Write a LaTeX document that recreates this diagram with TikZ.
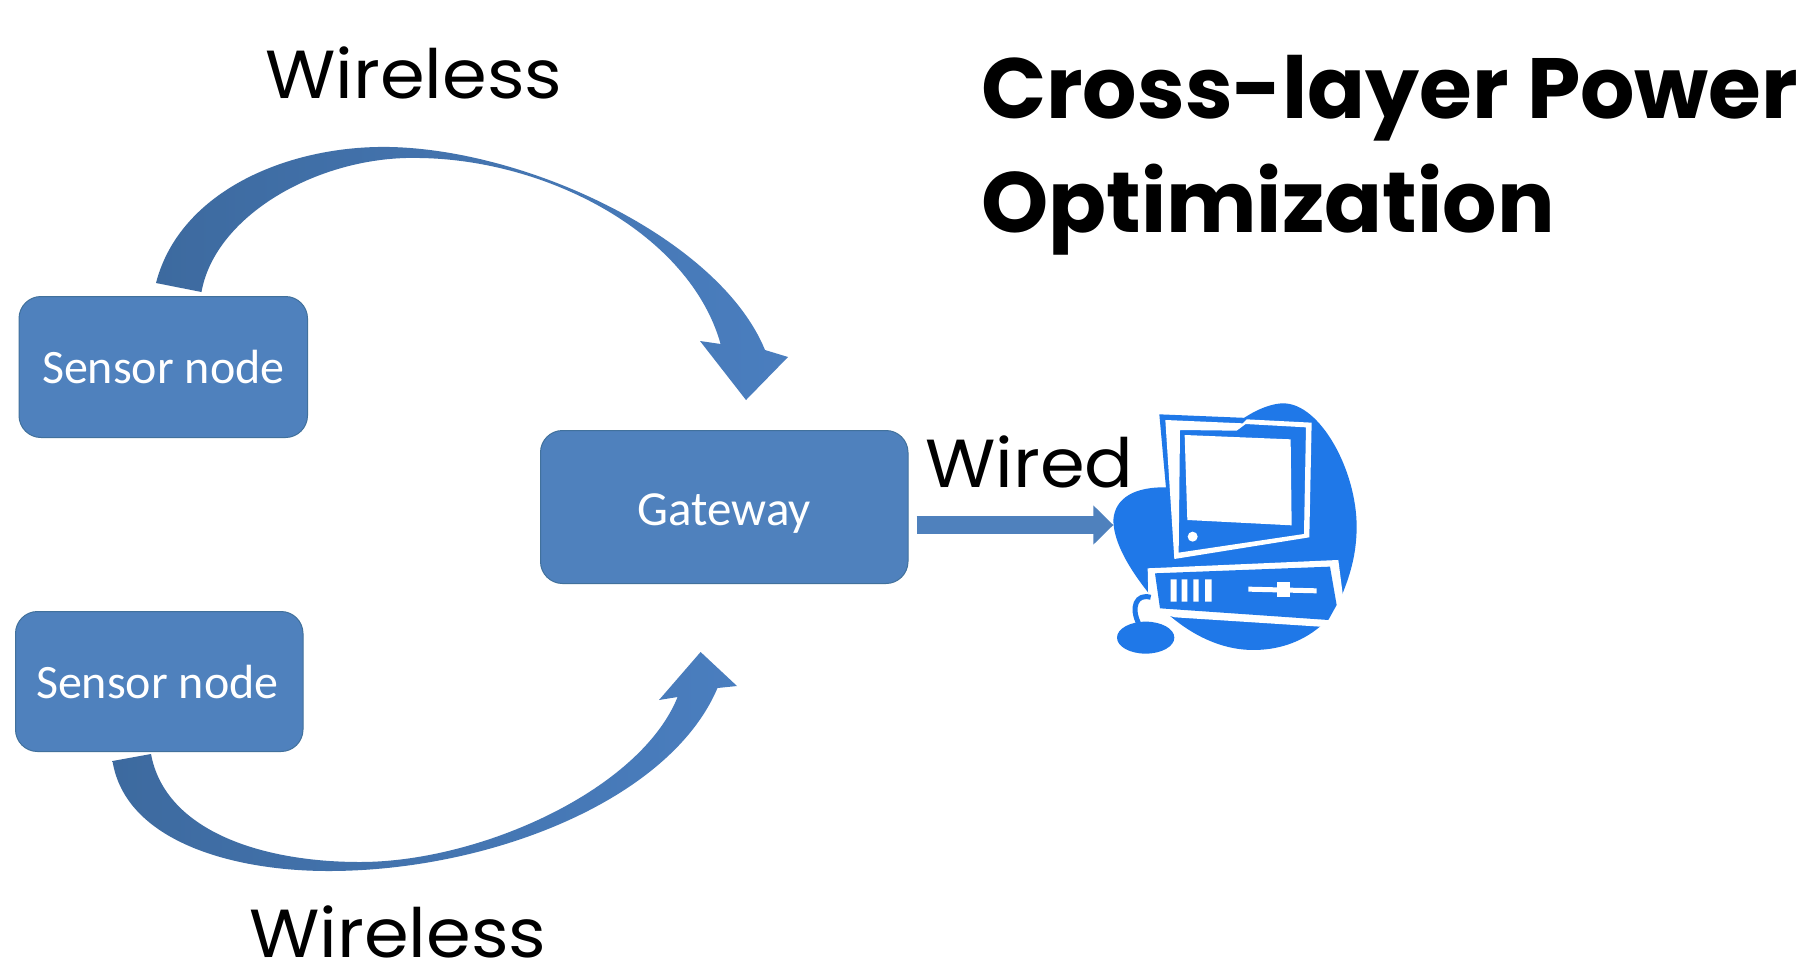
\documentclass[tikz,border=0pt]{standalone}
\usepackage{fontspec}
\setmainfont{Carlito}
\newfontfamily\comic{Poppins}
\newfontfamily\comicwide[FakeStretch=1.06]{Poppins}
\usetikzlibrary{arrows.meta}
\definecolor{boxfill}{HTML}{4F81BD}
\definecolor{boxline}{HTML}{41719C}
\definecolor{arrowdark}{HTML}{3D6A9F}
\definecolor{arrowlight}{HTML}{4A7EBF}
\definecolor{pcblue}{HTML}{1F78E8}
\tikzset{
  x=1pt,y=-1pt,
  boxnode/.style={draw=boxline,line width=1pt,fill=boxfill,rounded corners=22pt,text=white,inner sep=0pt,anchor=north west,font=\fontsize{48}{52}\selectfont,align=center},
  handlabel/.style={anchor=base west,inner sep=0pt,font=\comicwide\fontsize{68}{72}\selectfont},
  titlelabel/.style={anchor=base west,inner sep=0pt,font=\comic\bfseries\fontsize{85.5}{90}\selectfont},
  pcpart/.style={fill=pcblue,draw=none},
  pcwhite/.style={fill=white,draw=none},
}
\begin{document}
\begin{tikzpicture}
\useasboundingbox[fill=white] (0,0) rectangle (1817,967);
% boxes
\node[boxnode,minimum width=288.5pt,minimum height=141pt] (s1) at (18.5,296) {Sensor node};
\node[boxnode,minimum width=287.5pt,minimum height=140pt] (s2) at (15,611) {\hspace*{-4pt}Sensor node};
\node[boxnode,minimum width=367.5pt,minimum height=153pt,font=\fontsize{49}{54}\selectfont] (gw) at (540,430) {\rule{0pt}{44pt}Gateway};
% upper curved arrow
\coordinate (tip1) at (746,400);
\coordinate (tip2) at (700.6,652);
\shade[left color=arrowdark,right color=arrowlight,shading angle=90]
  (156,283) .. controls (180,190) and (290,145) .. (390,147)
  .. controls (530,150) and (720,240) .. (765,350)
  -- (788,357) -- (tip1) -- (700,341) -- (720.6,344)
  .. controls (690,235) and (550,160) .. (420,158)
  .. controls (320,155) and (215,215) .. (201.5,292)
  -- cycle;
% lower curved arrow
\shade[left color=arrowdark,right color=arrowlight,shading angle=90]
  (112.5,761) .. controls (125,840) and (230,871) .. (328.5,871)
  .. controls (490,871) and (670,800) .. (717.5,688)
  -- (737,686) -- (tip2) -- (659,700) -- (677.6,697)
  .. controls (640,790) and (480,862) .. (360,862)
  .. controls (260,862) and (165,830) .. (151,754)
  -- cycle;
% computer
\begin{scope}[shift={(1080pt,-380pt)},x=0.3333pt,y=-0.3333pt]
  \coordinate (pc) at (100,420);
  \fill[pcpart] (100,420) .. controls (105,350) and (170,320) .. (260,322)
     -- (400,200) .. controls (470,110) and (560,70) .. (610,70)
     .. controls (720,70) and (830,270) .. (830,440)
     .. controls (830,540) and (800,610) .. (780,660)
     -- (720,740) .. controls (660,790) and (590,810) .. (520,810)
     .. controls (400,810) and (300,740) .. (240,680)
     .. controls (170,600) and (100,500) .. (100,420) -- cycle;
  \fill[pcpart] (238,103) -- (700,122) -- (695,478) -- (278,545) -- cycle;
  \fill[pcwhite,even odd rule] (256,120) -- (488,130) -- (500,118) -- (695,128) -- (688,472) -- (283,537) -- cycle
     (300,150) -- (470,152) -- (497,132) -- (678,142) -- (672,462) -- (296,518) -- cycle;
  \fill[pcwhite] (314,165) -- (632,178) -- (635,436) -- (322,420) -- cycle;
  \fill[pcwhite] (338,470) circle[radius=15];
  \fill[pcwhite] (203,565) -- (775,540) -- (792,672) -- (750,742) -- (720,740) -- (285,712) -- (240,700) -- (205,650) -- cycle;
  \fill[pcpart] (225,580) -- (750,560) -- (770,675) -- (745,720) -- (240,685) -- cycle;
  \fill[pcwhite] (272,598) rectangle (290,665) (305,598) rectangle (322,665) (340,598) rectangle (356,665) (375,598) rectangle (395,665);
  \fill[pcwhite] (505,620) -- (710,625) -- (710,640) -- (505,635) -- cycle;
  \fill[pcwhite] (590,605) rectangle (630,650);
  \draw[pcblue,line width=5pt] (212,652) .. controls (170,640) and (150,680) .. (178,735);
  \fill[pcpart] (197,773) ellipse[x radius=86,y radius=48];
\end{scope}
% wired arrow
\draw[boxfill,line width=18pt,-{Triangle[length=20pt,width=38pt]},shorten <=8pt] (gw.east |- 0,525) -- (pc |- 0,525) coordinate (wireend);
% text
\node[handlabel] (w1) at (265,98) {Wireless};
\node[handlabel] (w2) at (249,957) {Wireless};
\node[handlabel] (w3) at (925,487) {Wired};
\node[titlelabel] (t1) at (981,118) {Cross-layer Power};
\node[titlelabel] (t2) at (981,232) {Optimization};
\end{tikzpicture}
\end{document}
